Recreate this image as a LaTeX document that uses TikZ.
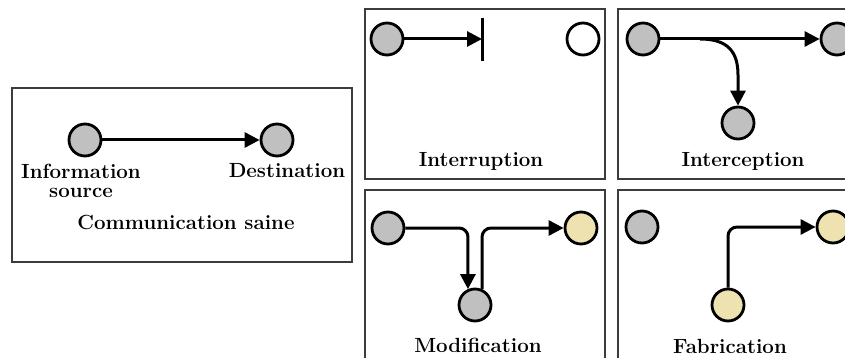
\documentclass[tikz,border=0pt]{standalone}
\usetikzlibrary{arrows.meta}
\definecolor{nodegray}{RGB}{192,192,192}
\definecolor{nodeyellow}{RGB}{238,226,176}
\definecolor{framegray}{RGB}{60,60,60}
\tikzset{
  panel/.style={draw=framegray, line width=1.1pt},
  party/.style={circle, draw=black, line width=2.8pt, minimum size=32pt, inner sep=0pt, fill=nodegray},
  forged/.style={party, fill=nodeyellow},
  absent/.style={party, fill=white},
  flow/.style={line width=3pt, -{Triangle[length=15pt,width=15pt]}},
  plainflow/.style={line width=3pt},
  caption/.style={font=\fontsize{20.5}{19}\selectfont\bfseries, inner sep=0pt, anchor=base}
}
\begin{document}
\begin{tikzpicture}[x=1pt,y=-1pt]
\useasboundingbox (0,0) rectangle (845,358);

% normal flow
\draw[panel] (12,88) rectangle (352,262);
\node[party] (ns) at (85,140) {};
\node[party] (nd) at (277,140) {};
\draw[flow] (ns) -- (nd);
\node[caption, align=center] (nsl) at (81,197) {Information\\source};
\node[caption] (ndl) at (287,178) {Destination};
\node[caption] (nl) at (186,229) {Communication saine};

% interruption
\draw[panel] (365,9) rectangle (605,179);
\node[party] (is) at (387,39) {};
\node[absent] (id) at (583,39) {};
\coordinate (ibar) at (482,39);
\draw[plainflow] (482,18) -- (482,61);
\draw[flow] (is) -- (ibar);
\node[caption] (il) at (481,167) {Interruption};

% interception
\draw[panel] (618,9) rectangle (860,179);
\node[party] (cs) at (643,39) {};
\node[party] (cd) at (837,39) {};
\node[party] (ce) at (738,123) {};
\draw[flow] (cs) -- (cd);
\coordinate (cb) at (700,39);
\draw[flow] (cb) .. controls (728,39) and (738,52) .. (738,75) -- (ce);
\node[caption] (cl) at (743,167) {Interception};

% modification
\draw[panel] (365,190) rectangle (605,370);
\node[party] (ms) at (388,228) {};
\node[party] (mm) at (475,305) {};
\node[forged] (md) at (581,228) {};
\draw[flow, rounded corners=9pt] (ms) -- (468,228) -- (mm.114);
\draw[flow, rounded corners=9pt] (mm.66) -- (482,228) -- (md);
\node[caption] (ml) at (478,352) {Modification};

% fabrication
\draw[panel] (618,190) rectangle (860,370);
\node[party] (fs) at (642,227) {};
\node[forged] (ff) at (728,305) {};
\node[forged] (fd) at (833,227) {};
\draw[flow, rounded corners=9pt] (ff) -- (728,227) -- (fd);
\node[caption] (fl) at (730,353) {Fabrication};
\end{tikzpicture}
\end{document}
